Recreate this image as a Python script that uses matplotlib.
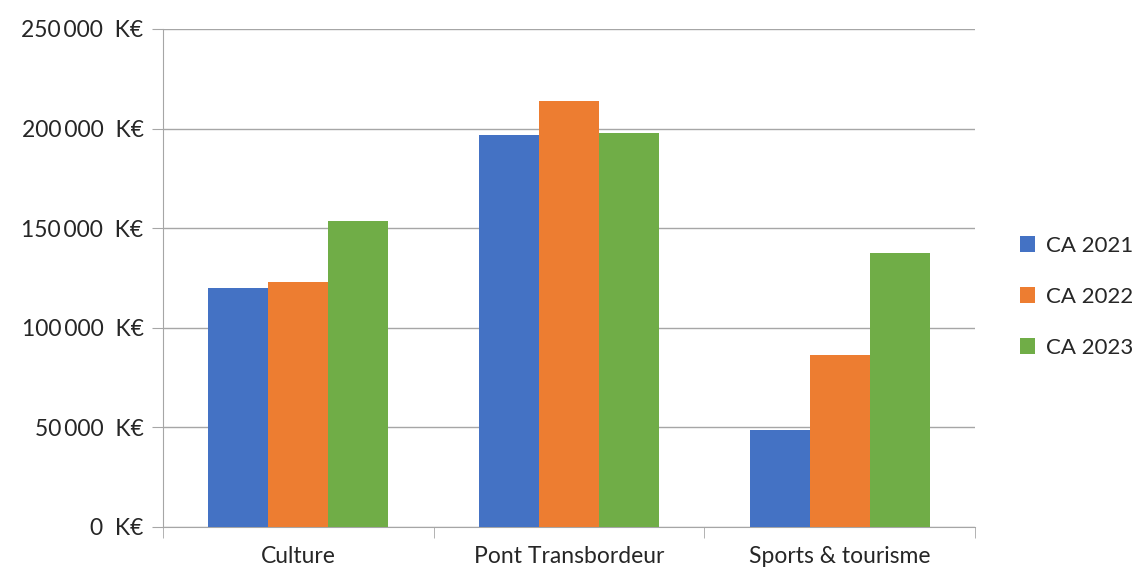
import matplotlib.pyplot as plt
import numpy as np

categories = ["Culture", "Pont Transbordeur", "Sports & tourisme"]
series = ["CA 2021", "CA 2022", "CA 2023"]
ca_2021 = [120000, 197000, 48500]
ca_2022 = [123000, 213800, 86500]
ca_2023 = [153500, 197800, 137500]
colors = ["#4472c4", "#ed7d31", "#70ad47"]
y_ticks = [0, 50000, 100000, 150000, 200000, 250000]

plt.rcParams['font.family'] = ['Lato', 'DejaVu Sans']

fig = plt.figure(figsize=(11.33, 5.73), dpi=100)
ax = fig.add_axes([0.1439, 0.0803, 0.8605 - 0.1439, 0.9494 - 0.0803])

x = np.arange(len(categories))
w = 0.222
handles = []
for i, (vals, lab) in enumerate(zip([ca_2021, ca_2022, ca_2023], series)):
    b = ax.bar(x + (i - 1) * w, vals, w, color=colors[i], label=lab, zorder=3)
    handles.append(b)

ax.set_xlim(-0.5, len(categories) - 0.5)
ax.set_ylim(0, 250000)
ax.set_yticks(y_ticks)
ax.set_yticklabels([f"{v:,}".replace(",", "\u2009") + "  K€" for v in y_ticks])
ax.set_xticks(x)
ax.set_xticklabels(categories)
ax.set_xticks(np.arange(len(categories) + 1) - 0.5, minor=True)

grey = "#a6a6a6"
ax.grid(axis="y", color=grey, linewidth=1, zorder=0)
for s in ["top", "right"]:
    ax.spines[s].set_visible(False)
for s in ["left", "bottom"]:
    ax.spines[s].set_color(grey)
ax.tick_params(axis="y", length=8, color=grey, labelsize=16.5, labelcolor="#262626", pad=6)
ax.tick_params(axis="x", which="major", length=0, labelsize=16.5, labelcolor="#262626", pad=14)
ax.tick_params(axis="x", which="minor", length=8, color=grey)

fig.legend(handles=handles, labels=series, loc="center left",
           bbox_to_anchor=(0.9, 0.482), frameon=False, fontsize=16,
           borderpad=0, borderaxespad=0,
           handlelength=0.7, handleheight=0.7, handletextpad=0.5,
           labelspacing=1.4, labelcolor="#262626")

fig.savefig("out.png", dpi=100)
